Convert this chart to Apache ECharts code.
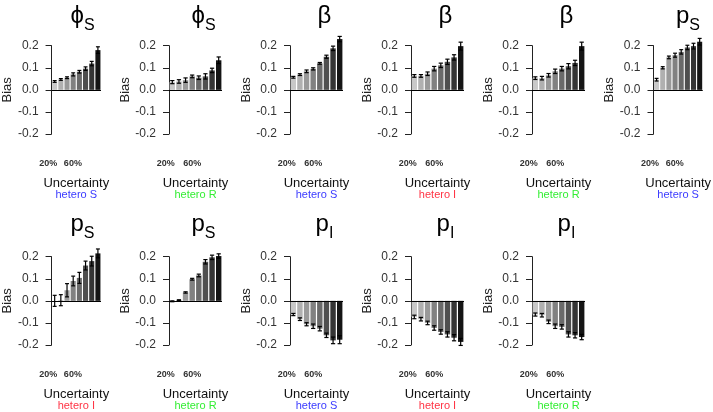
<!DOCTYPE html>
<html>
<head>
<meta charset="utf-8">
<script src="https://cdn.jsdelivr.net/npm/echarts@6/dist/echarts.min.js"></script>
<style>html,body{margin:0;padding:0;background:#fff}#c{width:713px;height:412px}</style>
</head>
<body>
<div id="c"></div>
<script>
// ---- data ----
const categories = ['20%','30%','40%','50%','60%','70%','80%','90%'];
const yTicks = [-0.2, -0.1, 0.0, 0.1, 0.2];
const titleMain = ['ϕ','ϕ','β','β','β','p','p','p','p','p','p'];
const titleSub  = ['S','S','','','','S','S','S','I','I','I'];
const heteroLabels = ['hetero S','hetero R','hetero S','hetero I','hetero R','hetero S','hetero I','hetero R','hetero S','hetero I','hetero R'];

const phiS_heteroS = [0.038, 0.047, 0.055, 0.070, 0.082, 0.096, 0.119, 0.180];
const phiS_heteroS_err = [0.004, 0.004, 0.004, 0.007, 0.006, 0.008, 0.010, 0.015];
const phiS_heteroR = [0.035, 0.038, 0.044, 0.061, 0.055, 0.061, 0.088, 0.134];
const phiS_heteroR_err = [0.007, 0.008, 0.010, 0.006, 0.008, 0.012, 0.010, 0.015];
const beta_heteroS = [0.057, 0.069, 0.084, 0.095, 0.120, 0.150, 0.188, 0.230];
const beta_heteroS_err = [0.004, 0.004, 0.006, 0.005, 0.004, 0.007, 0.010, 0.012];
const beta_heteroI = [0.063, 0.063, 0.073, 0.096, 0.111, 0.127, 0.147, 0.198];
const beta_heteroI_err = [0.006, 0.006, 0.008, 0.010, 0.010, 0.012, 0.012, 0.018];
const beta_heteroR = [0.053, 0.053, 0.066, 0.084, 0.096, 0.107, 0.122, 0.198];
const beta_heteroR_err = [0.006, 0.008, 0.008, 0.010, 0.010, 0.012, 0.012, 0.018];
const pS_heteroS = [0.046, 0.100, 0.147, 0.157, 0.172, 0.192, 0.198, 0.218];
const pS_heteroS_err = [0.006, 0.005, 0.006, 0.009, 0.010, 0.010, 0.013, 0.015];
const pS_heteroI = [0.000, 0.003, 0.048, 0.090, 0.104, 0.160, 0.180, 0.215];
const pS_heteroI_err = [0.025, 0.025, 0.030, 0.022, 0.025, 0.020, 0.022, 0.020];
const pS_heteroR = [-0.002, 0.003, 0.038, 0.098, 0.115, 0.177, 0.197, 0.203];
const pS_heteroR_err = [0.002, 0.002, 0.003, 0.004, 0.006, 0.010, 0.010, 0.010];
const pI_heteroS = [-0.062, -0.083, -0.106, -0.115, -0.126, -0.156, -0.179, -0.176];
const pI_heteroS_err = [0.005, 0.006, 0.007, 0.010, 0.010, 0.010, 0.015, 0.018];
const pI_heteroI = [-0.073, -0.083, -0.100, -0.123, -0.141, -0.152, -0.167, -0.186];
const pI_heteroI_err = [0.008, 0.008, 0.008, 0.010, 0.010, 0.012, 0.014, 0.016];
const pI_heteroR = [-0.062, -0.065, -0.095, -0.115, -0.118, -0.152, -0.156, -0.164];
const pI_heteroR_err = [0.007, 0.008, 0.008, 0.010, 0.010, 0.012, 0.012, 0.012];

const panelValues = [phiS_heteroS, phiS_heteroR, beta_heteroS, beta_heteroI, beta_heteroR, pS_heteroS, pS_heteroI, pS_heteroR, pI_heteroS, pI_heteroI, pI_heteroR];
const panelErrors = [phiS_heteroS_err, phiS_heteroR_err, beta_heteroS_err, beta_heteroI_err, beta_heteroR_err, pS_heteroS_err, pS_heteroI_err, pS_heteroR_err, pI_heteroS_err, pI_heteroI_err, pI_heteroR_err];

// ---- styles / layout ----
const barGrays = ['#c8c8c8','#b0b0b0','#999999','#818181','#6a6a6a','#4f4f4f','#353535','#151515'];
const heteroColors = {'hetero S':'#3a3aff','hetero R':'#33ee33','hetero I':'#ff3344'};
const FONT = '"Liberation Sans", Arial, sans-serif';
const colLeft = [48, 169, 290, 411, 532, 653.5];
const rowTop = [45.7, 256.7];
const gridW = 53, gridH = 88.3;

const grids = [], xAxes = [], yAxes = [], series = [], titles = [];
panelValues.forEach((vals, k) => {
  const r = k < 6 ? 0 : 1, c = k < 6 ? k : k - 6;
  const left = colLeft[c], top = rowTop[r];
  grids.push({left: left, top: top, width: gridW, height: gridH, containLabel: false});
  const het = heteroLabels[k];
  xAxes.push({
    type: 'category', gridIndex: k, data: categories, position: 'bottom',
    axisLine: {show: false}, axisTick: {show: false},
    axisLabel: {interval: 3, margin: 25, fontSize: 9, fontWeight: 'bold', color: '#333', fontFamily: FONT, padding: [0, 13, 0, 0]},
    name: '{u|Uncertainty}\n{h|' + het + '}', nameLocation: 'middle', nameGap: 44,
    nameTextStyle: {rich: {
      u: {fontSize: 13, color: '#111', fontFamily: FONT, lineHeight: 11},
      h: {fontSize: 11, color: heteroColors[het], fontFamily: FONT, lineHeight: 11}
    }}
  });
  yAxes.push({
    type: 'value', gridIndex: k, min: yTicks[0], max: yTicks[yTicks.length - 1], interval: 0.1,
    axisLine: {show: true, lineStyle: {color: '#222', width: 1}},
    axisTick: {show: true, length: 6, lineStyle: {color: '#222'}},
    splitLine: {show: false},
    axisLabel: {fontSize: 12, color: '#333', fontFamily: FONT, margin: 13, formatter: v => v.toFixed(1)},
    name: 'Bias', nameLocation: 'middle', nameGap: 36,
    nameTextStyle: {fontSize: 13, color: '#222', fontFamily: FONT}
  });
  series.push({
    type: 'bar', xAxisIndex: k, yAxisIndex: k, barCategoryGap: '18%', clip: false,
    data: vals.map((v, i) => ({value: v, itemStyle: {color: barGrays[i]}})),
    markLine: {silent: true, symbol: 'none', animation: false, label: {show: false},
      lineStyle: {color: '#000', width: 1, type: 'solid'}, data: [{yAxis: 0}]}
  });
  const errs = panelErrors[k];
  series.push({
    type: 'custom', xAxisIndex: k, yAxisIndex: k, z: 5, clip: false,
    data: vals.map((v, i) => [i, v - errs[i], v + errs[i]]),
    encode: {x: 0, y: [1, 2]},
    renderItem: function (params, api) {
      const x = api.value(0);
      const lo = api.coord([x, api.value(1)]);
      const hi = api.coord([x, api.value(2)]);
      const hw = api.size([1, 0])[0] * 0.32;
      const st = {stroke: '#000', lineWidth: 1.2};
      return {type: 'group', children: [
        {type: 'line', shape: {x1: lo[0], y1: lo[1], x2: hi[0], y2: hi[1]}, style: st},
        {type: 'line', shape: {x1: lo[0] - hw, y1: lo[1], x2: lo[0] + hw, y2: lo[1]}, style: st},
        {type: 'line', shape: {x1: hi[0] - hw, y1: hi[1], x2: hi[0] + hw, y2: hi[1]}, style: st}
      ]};
    }
  });
  const sub = titleSub[k];
  titles.push({
    text: '{m|' + titleMain[k] + '}' + (sub ? '{s|' + sub + '}' : ''),
    left: left + gridW / 2 + 3, top: r === 0 ? -1 : 207, textAlign: 'center',
    textStyle: {fontWeight: 'normal', rich: {
      m: {fontSize: 24, fontWeight: 'normal', color: '#000', fontFamily: FONT, verticalAlign: 'bottom', padding: [0, 0, 6, 0]},
      s: {fontSize: 16, fontWeight: 'normal', color: '#000', fontFamily: FONT, verticalAlign: 'bottom'}
    }}
  });
});

const chart = echarts.init(document.getElementById('c'), null, {renderer: 'canvas'});
chart.setOption({
  animation: false,
  backgroundColor: '#fff',
  title: titles,
  grid: grids, xAxis: xAxes, yAxis: yAxes, series: series
});
</script>
</body>
</html>
